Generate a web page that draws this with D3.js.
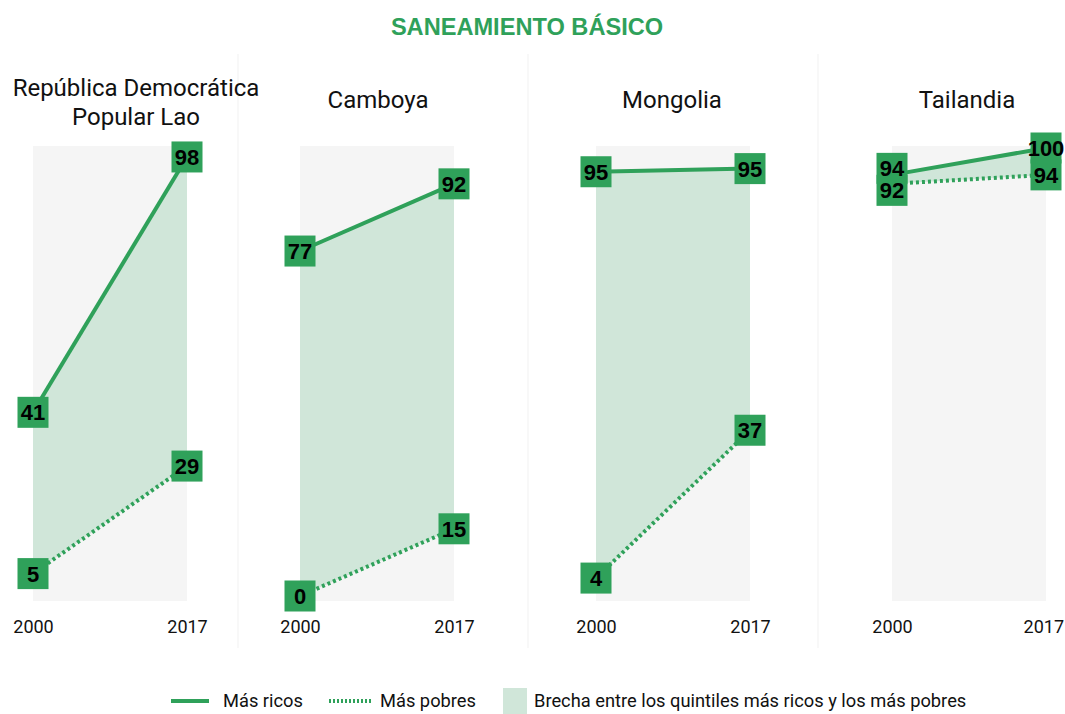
<!DOCTYPE html>
<html>
<head>
<meta charset="utf-8">
<script src="https://cdn.jsdelivr.net/npm/d3@7"></script>
<style>
    body { margin: 0; background: #fff; }
    svg { display: block; }
</style>
</head>
<body>
<div id="chart"></div>
<script>
/* eslint-env browser */

var countries = ["República Democrática Popular Lao", "Camboya", "Mongolia", "Tailandia"],
    years = ["2000", "2017"],
    richest2000 = [41, 77, 94.7, 94],
    richest2017 = [98, 92, 95.4, 100],
    poorest2000 = [5, 0, 4, 92],
    poorest2017 = [29, 15, 37, 94],
    legendLabels = ["Más ricos", "Más pobres", "Brecha entre los quintiles más ricos y los más pobres"];

var colorGreen = "#2fa15a",
    colorGap = "#d0e6d9",
    colorPanel = "#f5f5f5";

var width = 1065,
    height = 714,
    panelLeft = [33, 300, 596, 892],
    panelWidth = 154,
    titleX = [136, 378, 672, 967],
    separators = [238, 528, 818],
    labelGap = 22;

var svg = d3.select("#chart").append("svg")
    .attr("width", width)
    .attr("height", height);

var y = d3.scaleLinear()
    .domain([0, 100])
    .range([596, 148]);

svg.append("text")
    .attr("x", 527)
    .attr("y", 35)
    .attr("text-anchor", "middle")
    .style("font-family", "Liberation Sans, Arial, sans-serif")
    .style("font-weight", "bold")
    .style("font-size", "23.6px")
    .style("fill", colorGreen)
    .text("SANEAMIENTO BÁSICO");

svg.selectAll(".sep")
    .data(separators)
    .enter().append("line")
    .attr("class", "sep")
    .attr("x1", function (d) { return d; })
    .attr("x2", function (d) { return d; })
    .attr("y1", 54)
    .attr("y2", 648)
    .attr("stroke", "#f1f1f1")
    .attr("stroke-width", 1);

countries.forEach(function (name, i) {
    var x = d3.scalePoint()
            .domain(years)
            .range([panelLeft[i], panelLeft[i] + panelWidth]),
        rows = years.map(function (yr, j) {
            return {
                year: yr,
                rich: j === 0 ? richest2000[i] : richest2017[i],
                poor: j === 0 ? poorest2000[i] : poorest2017[i]
            };
        }),
        g = svg.append("g"),
        title;

    // country title, the long one wraps to two lines
    title = g.append("text")
        .attr("text-anchor", "middle")
        .style("font-family", "Roboto, sans-serif")
        .style("font-size", "24px")
        .style("fill", "#111");
    if (i === 0) {
        title.append("tspan").attr("x", titleX[i]).attr("y", 96).text("República Democrática");
        title.append("tspan").attr("x", titleX[i]).attr("y", 125).text("Popular Lao");
    } else {
        title.attr("x", titleX[i]).attr("y", 108).text(name);
    }

    g.append("rect")
        .attr("x", panelLeft[i])
        .attr("y", y(100) - 2)
        .attr("width", panelWidth)
        .attr("height", y(0) - y(100) + 7)
        .attr("fill", colorPanel);

    g.append("path")
        .datum(rows)
        .attr("fill", colorGap)
        .attr("d", d3.area()
            .x(function (d) { return x(d.year); })
            .y0(function (d) { return y(d.poor); })
            .y1(function (d) { return y(d.rich); }));

    g.append("path")
        .datum(rows)
        .attr("fill", "none")
        .attr("stroke", colorGreen)
        .attr("stroke-width", 4)
        .attr("d", d3.line()
            .x(function (d) { return x(d.year); })
            .y(function (d) { return y(d.rich); }));

    g.append("path")
        .datum(rows)
        .attr("fill", "none")
        .attr("stroke", colorGreen)
        .attr("stroke-width", 4)
        .attr("stroke-dasharray", "3,3")
        .attr("d", d3.line()
            .x(function (d) { return x(d.year); })
            .y(function (d) { return y(d.poor); }));

    // one label per end point; push the pair apart when they collide
    var points = [];
    rows.forEach(function (d) {
        var yr = y(d.rich),
            yp = y(d.poor),
            push = Math.max(0, (labelGap - (yp - yr)) / 2);
        points.push({ year: d.year, v: d.rich, ly: yr - push });
        points.push({ year: d.year, v: d.poor, ly: yp + push });
    });

    g.selectAll(".box")
        .data(points)
        .enter().append("rect")
        .attr("x", function (d) { return x(d.year) - 15.5; })
        .attr("y", function (d) { return d.ly - 15.5; })
        .attr("width", 31)
        .attr("height", 31)
        .attr("fill", colorGreen);

    g.selectAll(".val")
        .data(points)
        .enter().append("text")
        .attr("x", function (d) { return x(d.year); })
        .attr("y", function (d) { return d.ly + 8; })
        .attr("text-anchor", "middle")
        .style("font-family", "Liberation Sans, Arial, sans-serif")
        .style("font-weight", "bold")
        .style("font-size", "22px")
        .style("fill", "#000")
        .text(function (d) { return d3.format(".0f")(d.v); });

    var axis = g.append("g")
        .attr("transform", "translate(0,615)")
        .call(d3.axisBottom(x).tickSize(0).tickPadding(0));
    axis.select(".domain").remove();
    axis.selectAll("text")
        .attr("dy", "1em")
        .style("font-family", "Roboto, sans-serif")
        .style("font-size", "18px")
        .style("fill", "#111");

    // keep the last year label inside the page
    axis.selectAll(".tick").each(function () {
        var t = d3.select(this),
            box = this.getBoundingClientRect();
        if (box.right > width - 1) {
            t.select("text").attr("dx", -(box.right - width + 1));
        }
    });
});

// legend
var legend = svg.append("g").attr("transform", "translate(0,701)"),
    legendFont = function (sel) {
        sel.style("font-family", "Roboto, sans-serif")
            .style("font-size", "18.3px")
            .style("fill", "#111");
    };

legend.append("line")
    .attr("x1", 171).attr("x2", 209)
    .attr("stroke", colorGreen).attr("stroke-width", 4);
legend.append("text").attr("x", 223).attr("y", 6).call(legendFont).text(legendLabels[0]);

legend.append("line")
    .attr("x1", 329).attr("x2", 371)
    .attr("stroke", colorGreen).attr("stroke-width", 4)
    .attr("stroke-dasharray", "2,2");
legend.append("text").attr("x", 380).attr("y", 6).call(legendFont).text(legendLabels[1]);

legend.append("rect")
    .attr("x", 503).attr("y", -13)
    .attr("width", 24).attr("height", 26)
    .attr("fill", colorGap);
legend.append("text").attr("x", 534).attr("y", 6).call(legendFont).text(legendLabels[2]);
</script>
</body>
</html>
